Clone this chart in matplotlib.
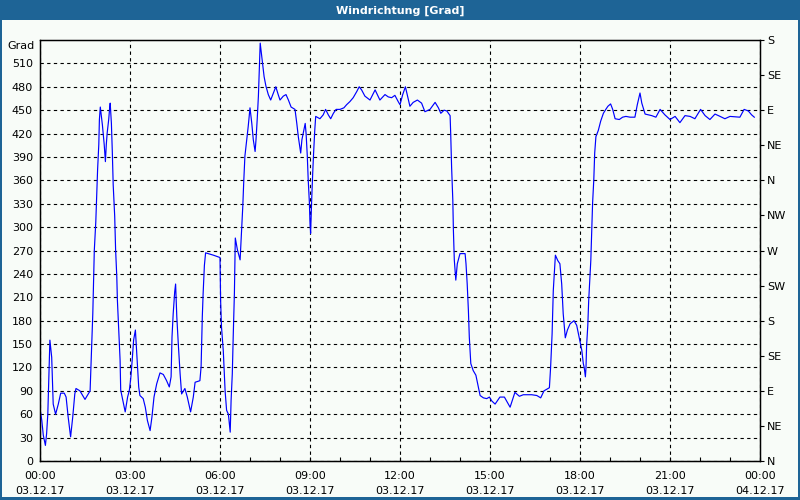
import numpy as np
import matplotlib
matplotlib.use("Agg")
import matplotlib.pyplot as plt
from matplotlib.patches import Rectangle

# wind direction in degrees, time in hours since 03.12.17 00:00
hours = [0.02, 0.06, 0.11, 0.18, 0.22, 0.26, 0.30, 0.33, 0.39, 0.44, 0.52, 0.61, 0.69, 0.81, 0.87,
         0.94, 1.02, 1.09, 1.16, 1.20, 1.33, 1.50, 1.67, 1.72, 1.76, 1.81, 1.86, 1.89, 1.92, 1.96,
         1.98, 2.01, 2.04, 2.08, 2.11, 2.14, 2.18, 2.21, 2.24, 2.29, 2.32, 2.34, 2.38, 2.41, 2.44,
         2.49, 2.52, 2.56, 2.58, 2.62, 2.67, 2.69, 2.76, 2.84, 2.92, 2.98, 3.03, 3.08, 3.12, 3.18,
         3.22, 3.29, 3.33, 3.44, 3.51, 3.58, 3.67, 3.73, 3.80, 3.89, 4.00, 4.11, 4.22, 4.31, 4.37,
         4.40, 4.44, 4.49, 4.52, 4.56, 4.61, 4.67, 4.72, 4.83, 4.91, 5.02, 5.11, 5.17, 5.33, 5.37,
         5.41, 5.44, 5.48, 5.52, 5.78, 6.00, 6.02, 6.05, 6.11, 6.17, 6.22, 6.28, 6.31, 6.34, 6.37,
         6.41, 6.44, 6.48, 6.51, 6.58, 6.67, 6.72, 6.76, 6.79, 6.83, 6.89, 6.94, 7.00, 7.06, 7.11,
         7.17, 7.20, 7.24, 7.28, 7.31, 7.34, 7.38, 7.42, 7.47, 7.53, 7.61, 7.69, 7.78, 7.86, 7.94,
         8.00, 8.11, 8.20, 8.28, 8.37, 8.50, 8.56, 8.61, 8.69, 8.73, 8.80, 8.84, 8.87, 8.91, 8.94,
         8.98, 9.00, 9.02, 9.06, 9.09, 9.12, 9.16, 9.19, 9.28, 9.33, 9.44, 9.52, 9.61, 9.69, 9.78,
         9.87, 10.00, 10.13, 10.22, 10.33, 10.44, 10.56, 10.64, 10.72, 10.83, 11.00, 11.17, 11.33,
         11.50, 11.61, 11.72, 11.83, 11.94, 12.00, 12.09, 12.18, 12.24, 12.33, 12.44, 12.58, 12.72,
         12.83, 13.00, 13.17, 13.28, 13.36, 13.47, 13.56, 13.67, 13.69, 13.72, 13.76, 13.78, 13.81,
         13.86, 13.91, 14.00, 14.17, 14.20, 14.24, 14.28, 14.31, 14.36, 14.44, 14.53, 14.61, 14.67,
         14.78, 14.89, 14.98, 15.06, 15.17, 15.33, 15.48, 15.67, 15.83, 15.98, 16.11, 16.39, 16.56,
         16.69, 16.80, 16.98, 17.02, 17.07, 17.11, 17.18, 17.26, 17.33, 17.39, 17.44, 17.51, 17.58,
         17.67, 17.80, 17.89, 17.98, 18.06, 18.11, 18.14, 18.18, 18.20, 18.22, 18.26, 18.29, 18.32,
         18.36, 18.39, 18.42, 18.46, 18.49, 18.53, 18.61, 18.69, 18.78, 18.86, 18.93, 19.02, 19.09,
         19.17, 19.31, 19.42, 19.53, 19.67, 19.83, 19.91, 20.00, 20.06, 20.17, 20.28, 20.39, 20.53,
         20.67, 20.83, 21.00, 21.17, 21.33, 21.50, 21.67, 21.83, 22.02, 22.17, 22.33, 22.50, 22.67,
         22.83, 23.00, 23.33, 23.47, 23.61, 23.72, 23.81]
grad = [62, 52, 33, 20, 35, 60, 112, 155, 133, 73, 60, 73, 87, 87, 82,
        56, 31, 56, 86, 93, 90, 79, 90, 146, 189, 270, 307, 341, 374, 406,
        438, 454, 444, 431, 419, 406, 384, 406, 421, 438, 452, 459, 433, 397, 354,
        314, 271, 236, 206, 172, 129, 91, 78, 63, 82, 91, 108, 133, 155, 168,
        142, 95, 84, 80, 69, 52, 39, 56, 82, 99, 113, 111, 103, 95, 108,
        159, 189, 217, 227, 185, 150, 112, 86, 93, 82, 63, 82, 101, 103, 121,
        185, 217, 251, 267, 264, 261, 206, 172, 141, 90, 65, 60, 48, 37, 78,
        112, 159, 215, 286, 271, 258, 297, 327, 357, 391, 412, 429, 453, 433, 412,
        397, 412, 438, 468, 502, 536, 523, 510, 493, 481, 470, 463, 472, 480, 470,
        463, 468, 470, 463, 454, 451, 433, 416, 395, 412, 425, 433, 420, 391, 361,
        331, 305, 292, 339, 369, 395, 425, 442, 440, 439, 444, 451, 444, 439, 446,
        451, 451, 453, 457, 461, 466, 474, 480, 476, 468, 463, 476, 463,
        470, 467, 466, 469, 461, 457, 470, 480, 470, 455, 460, 463, 459,
        448, 451, 460, 453, 446, 450, 449, 443, 420, 377, 335, 296, 258,
        232, 253, 266, 266, 253, 227, 193, 159, 125, 116, 110, 95, 84,
        81, 80, 82, 77, 73, 82, 82, 69, 88, 83, 85, 85, 84,
        81, 90, 94, 120, 163, 219, 264, 257, 253, 227, 189, 158, 168,
        176, 180, 174, 157, 142, 125, 120, 108, 120, 148, 174, 206, 227,
        257, 295, 331, 361, 395, 416, 424, 436, 446, 451, 455, 458, 451,
        439, 438, 441, 442, 441, 441, 457, 472, 459, 445, 444, 443, 441,
        451, 444, 438, 442, 434, 443, 442, 439, 451, 443, 438, 445, 442,
        439, 442, 441, 451, 449, 444, 441]

x_ticks = [0, 3, 6, 9, 12, 15, 18, 21, 24]
x_labels = ["00:00\n03.12.17", "03:00\n03.12.17", "06:00\n03.12.17", "09:00\n03.12.17",
            "12:00\n03.12.17", "15:00\n03.12.17", "18:00\n03.12.17", "21:00\n03.12.17",
            "00:00\n04.12.17"]
compass = ["N", "NE", "E", "SE", "S", "SW", "W", "NW", "N", "NE", "E", "SE", "S"]

bg = "#f8fcf8"
frame = "#1e6496"

fig = plt.figure(figsize=(8, 5), dpi=100, facecolor=bg)

# title bar + window border
fig.patches.append(Rectangle((0, 1 - 20 / 500), 1, 20 / 500, transform=fig.transFigure,
                             facecolor=frame, edgecolor="none", zorder=0))
fig.patches.append(Rectangle((0, 0), 2 / 800, 1, transform=fig.transFigure,
                             facecolor=frame, edgecolor="none", zorder=0))
fig.patches.append(Rectangle((1 - 2 / 800, 0), 2 / 800, 1, transform=fig.transFigure,
                             facecolor=frame, edgecolor="none", zorder=0))
fig.patches.append(Rectangle((0, 0), 1, 3 / 500, transform=fig.transFigure,
                             facecolor=frame, edgecolor="none", zorder=0))
fig.text(0.5, 1 - 10.5 / 500, "Windrichtung [Grad]", color="white", fontsize=8,
         fontweight="bold", ha="center", va="center")

ax = fig.add_axes([40 / 800, 1 - 461 / 500, 720 / 800, 421 / 500])
ax.set_facecolor(bg)
ax.plot(hours, grad, color="#0000ff", lw=0.85, zorder=3)

ax.set_xlim(0, 24)
ax.set_ylim(0, 540)
ax.set_xticks(x_ticks)
ax.set_xticklabels(x_labels, fontsize=8, linespacing=1.6)
ax.set_xticks(np.arange(0, 25, 1), minor=True)
ax.tick_params(axis="x", which="both", direction="in", length=3, width=0.8, pad=7)
ax.set_yticks(np.arange(0, 511, 30))
ax.tick_params(axis="y", length=0, labelsize=8, pad=5)
ax.grid(True, color="black", linestyle=(0, (3, 3)), linewidth=0.8)
for s in ax.spines.values():
    s.set_color("black")
    s.set_linewidth(1.0)
ax.text(-0.007, 532, "Grad", transform=ax.get_yaxis_transform(), ha="right",
        va="center", fontsize=8)

ax2 = ax.twinx()
ax2.set_ylim(0, 540)
ax2.set_yticks(np.arange(0, 541, 45))
ax2.set_yticklabels(compass, fontsize=8)
ax2.tick_params(axis="y", direction="out", length=3, width=0.8, pad=2)

fig.savefig("out.png", dpi=100, facecolor=bg)
